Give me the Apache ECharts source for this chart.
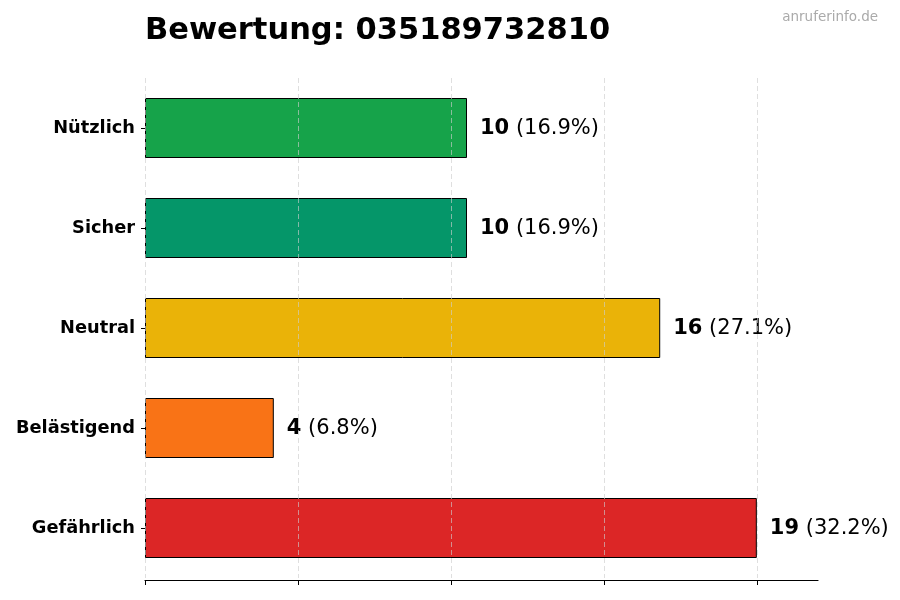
<!DOCTYPE html>
<html>
<head>
<meta charset="utf-8">
<script src="https://cdn.jsdelivr.net/npm/echarts@6/dist/echarts.min.js"></script>
<style>html,body{margin:0;padding:0;background:#fff}#c{width:900px;height:600px}</style>
</head>
<body>
<div id="c"></div>
<script>
const categories = ["Nützlich", "Sicher", "Neutral", "Belästigend", "Gefährlich"];
const values = [10, 10, 16, 4, 19];
const colors = ["#16a34a", "#059669", "#eab308", "#f97316", "#dc2626"];
const xTicks = [0, 4.75, 9.5, 14.25, 19];
const xMax = 20.9;
const titleText = "Bewertung: 035189732810";
const watermark = "anruferinfo.de";

const total = values.reduce((a, b) => a + b, 0);
const font = "DejaVu Sans";

const chart = echarts.init(document.getElementById('c'), null, {renderer: 'canvas'});
chart.setOption({
  animation: false,
  backgroundColor: '#fff',
  title: [
    {text: titleText, left: 145, top: 16, padding: 0, textStyle: {fontFamily: font, fontSize: 30.5, fontWeight: 'bold', color: '#000'}},
    {text: watermark, right: 22, top: 10, padding: 0, textStyle: {fontFamily: font, fontSize: 13.5, fontWeight: 'normal', color: '#aaaaaa'}}
  ],
  grid: {left: 145, right: 82, top: 78, bottom: 22, containLabel: false},
  xAxis: {
    type: 'value', min: 0, max: xMax, offset: 2,
    axisLine: {show: true, lineStyle: {color: '#000', width: 1.2}},
    axisTick: {show: true, customValues: xTicks, length: 5, lineStyle: {color: '#000', width: 1}},
    axisLabel: {show: false},
    splitLine: {show: false}
  },
  yAxis: {
    type: 'category', data: categories, inverse: true,
    axisLine: {show: false},
    axisTick: {show: true, alignWithLabel: true, length: 4, lineStyle: {color: '#000'}},
    axisLabel: {fontFamily: font, fontSize: 17.8, fontWeight: 'bold', color: '#000', margin: 10, padding: [3, 0, 0, 0]}
  },
  series: [{
    type: 'bar',
    barWidth: '60%',
    data: values.map((v, i) => ({value: v, itemStyle: {color: colors[i]}})),
    itemStyle: {borderColor: '#000', borderWidth: 1},
    label: {
      show: true, position: 'right', distance: 13,
      formatter: p => '{b|' + p.value + '}{n| (' + (p.value / total * 100).toFixed(1) + '%)}',
      rich: {
        b: {fontFamily: font, fontSize: 21, fontWeight: 'bold', color: '#000', padding: [2, 0, 0, 0]},
        n: {fontFamily: font, fontSize: 21, color: '#000', padding: [2, 0, 0, 0]}
      }
    },
    markLine: {
      silent: true, symbol: 'none', z: 10,
      label: {show: false},
      lineStyle: {color: '#cccccc', type: [5, 3], width: 0.8, opacity: 0.8},
      data: xTicks.map(t => ({xAxis: t}))
    }
  }]
});
</script>
</body>
</html>
